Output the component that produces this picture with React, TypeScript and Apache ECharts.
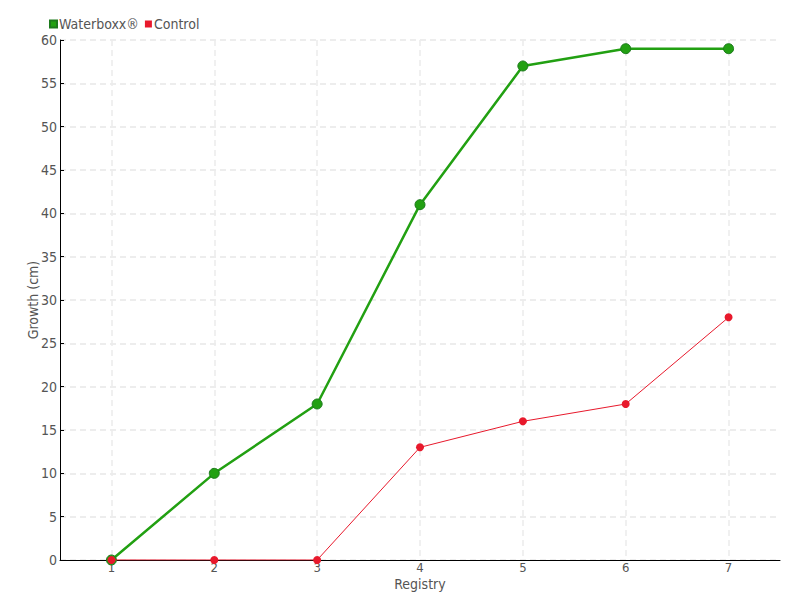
import React, { useEffect, useRef } from "react";
import * as echarts from "echarts";

const categories = ["1", "2", "3", "4", "5", "6", "7"];
const waterboxx = [0, 10, 18, 41, 57, 59, 59];
const control = [0, 0, 0, 13, 16, 18, 28];

const FONT = "'DejaVu Sans Condensed', 'Liberation Sans Narrow', sans-serif";
const TEXT = "#555";

export default function App() {
  const ref = useRef<HTMLDivElement>(null);
  useEffect(() => {
    const chart = echarts.init(ref.current!, null, { renderer: "svg" });
    chart.setOption({
      animation: false,
      textStyle: { fontFamily: FONT, color: TEXT },
      legend: {
        left: 44,
        top: 12,
        itemWidth: 7,
        itemHeight: 7,
        itemGap: 6,
        icon: "rect",
        textStyle: { fontFamily: FONT, fontSize: 14, color: TEXT, padding: [0, 0, 0, -3] },
        data: ["Waterboxx®", "Control"],
      },
      grid: { left: 60, right: 20, top: 40, bottom: 40 },
      xAxis: {
        type: "category",
        data: categories,
        boundaryGap: true,
        name: "Registry",
        nameLocation: "middle",
        nameGap: 17,
        nameMoveOverlap: false,
        nameTextStyle: { fontFamily: FONT, fontSize: 14, color: TEXT },
        axisLine: { lineStyle: { color: "#000", width: 1 } },
        axisTick: { alignWithLabel: true, length: 4, lineStyle: { color: "#000" } },
        axisLabel: { fontFamily: FONT, fontSize: 13, color: TEXT, margin: 1 },
        splitLine: { show: true, alignWithLabel: true, lineStyle: { color: "#ececec", type: [6, 4], width: 1.5 } },
      },
      yAxis: {
        type: "value",
        min: 0,
        max: 60,
        interval: 5,
        name: "Growth (cm)",
        nameLocation: "middle",
        nameGap: 20,
        nameMoveOverlap: false,
        nameTextStyle: { fontFamily: FONT, fontSize: 14, color: TEXT },
        axisLine: { show: true, lineStyle: { color: "#000", width: 1 } },
        axisTick: { show: true, inside: true, length: 4, lineStyle: { color: "#000" } },
        axisLabel: { fontFamily: FONT, fontSize: 14, color: TEXT, margin: 3 },
        splitLine: { show: true, lineStyle: { color: "#e8e8e8", type: [6, 4], width: 1.5 } },
      },
      series: [
        {
          name: "Waterboxx®",
          type: "line",
          data: waterboxx,
          symbol: "circle",
          symbolSize: 10,
          itemStyle: { color: "#22a012", borderColor: "#1c7a1c", borderWidth: 1 },
          lineStyle: { color: "#22a012", width: 2.5 },
          z: 2,
        },
        {
          name: "Control",
          type: "line",
          data: control,
          symbol: "circle",
          symbolSize: 8,
          itemStyle: { color: "#e8192c" },
          lineStyle: { color: "#e8192c", width: 1 },
          z: 3,
        },
      ],
    });
    return () => chart.dispose();
  }, []);
  return <div ref={ref} style={{ width: 800, height: 600, position: "absolute", left: 0, top: 0 }} />;
}
